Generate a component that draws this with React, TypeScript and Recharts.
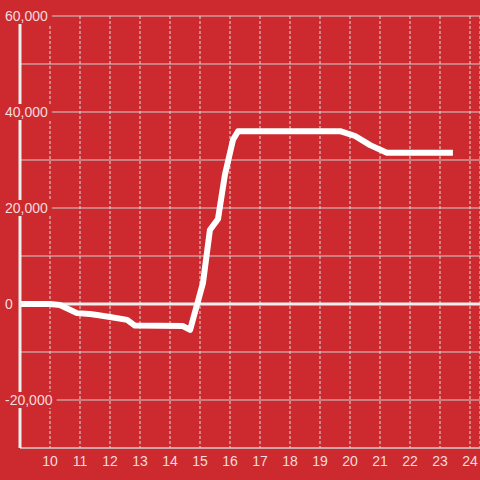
import { CartesianGrid, Line, LineChart, ReferenceLine, XAxis, YAxis } from 'recharts'

// hour of day -> running value
const HOURS = [
  9.0, 10.0, 10.33, 10.9, 11.33, 11.57, 12.0, 12.57, 12.83, 14.43, 14.67, 15.1, 15.33, 15.6, 15.83, 16.1,
  16.27, 19.67, 20.17, 20.67, 21.23, 23.43,
]
const VALUES = [
  0, 0, -200, -1900, -2100, -2300, -2700, -3300, -4500, -4600, -5400, 4400, 15400, 17700, 26900, 34200,
  36000, 36000, 35000, 33100, 31500, 31500,
]
const X_TICKS = [10, 11, 12, 13, 14, 15, 16, 17, 18, 19, 20, 21, 22, 23, 24]
const Y_TICKS = [-30000, -20000, -10000, 0, 10000, 20000, 30000, 40000, 50000, 60000]
const Y_LABELS = [-20000, 0, 20000, 40000, 60000]

const BG = '#cc2a2f'
const TEXT = '#f4dcdc'
const FONT = '"Liberation Sans", Arial, sans-serif'

const data = HOURS.map((hour, i) => ({ hour, value: VALUES[i] }))

const charWidth = (ch: string) => (ch === ',' ? 3.9 : ch === '-' ? 4.7 : 7.8)

function YTick(props: { y?: number; payload?: { value: number } }) {
  const value = props.payload?.value ?? 0
  if (!Y_LABELS.includes(value)) return null
  const label = value.toLocaleString('en-US')
  const width = label.split('').reduce((sum, ch) => sum + charWidth(ch), 0)
  const y = Number(props.y)
  return (
    <g>
      <rect x={4} y={y - 8} width={width + 5} height={16} fill={BG} />
      <text x={5} y={y} dy={5} textAnchor="start" fill={TEXT} fontSize={14} fontFamily={FONT}>
        {label}
      </text>
    </g>
  )
}

export default function App() {
  return (
    <div style={{ position: 'absolute', left: 0, top: 0, width: 480, height: 480, background: BG }}>
      <LineChart width={480} height={480} data={data} margin={{ top: 16, right: 0, left: 0, bottom: 0 }}>
        <CartesianGrid vertical={false} stroke="#cfcfcf" strokeWidth={1} />
        <CartesianGrid horizontal={false} stroke="#e2dada" strokeDasharray="3 2" strokeWidth={1} />
        <XAxis
          dataKey="hour"
          type="number"
          domain={[9, 24 + 1 / 3]}
          ticks={X_TICKS}
          allowDataOverflow
          height={32}
          tickLine={false}
          axisLine={{ stroke: '#cfcfcf', strokeWidth: 1 }}
          tick={{ fill: TEXT, fontSize: 14, fontFamily: FONT }}
          interval={0}
        />
        <YAxis
          type="number"
          width={20}
          domain={[-30000, 60000]}
          ticks={Y_TICKS}
          interval={0}
          tickLine={false}
          axisLine={{ stroke: '#eeeeee', strokeWidth: 3 }}
          tick={<YTick />}
        />
        <ReferenceLine y={0} stroke="#eeeeee" strokeWidth={3} />
        <Line
          type="linear"
          dataKey="value"
          stroke="#ffffff"
          strokeWidth={6}
          strokeLinejoin="round"
          dot={false}
          activeDot={false}
          isAnimationActive={false}
        />
      </LineChart>
    </div>
  )
}
